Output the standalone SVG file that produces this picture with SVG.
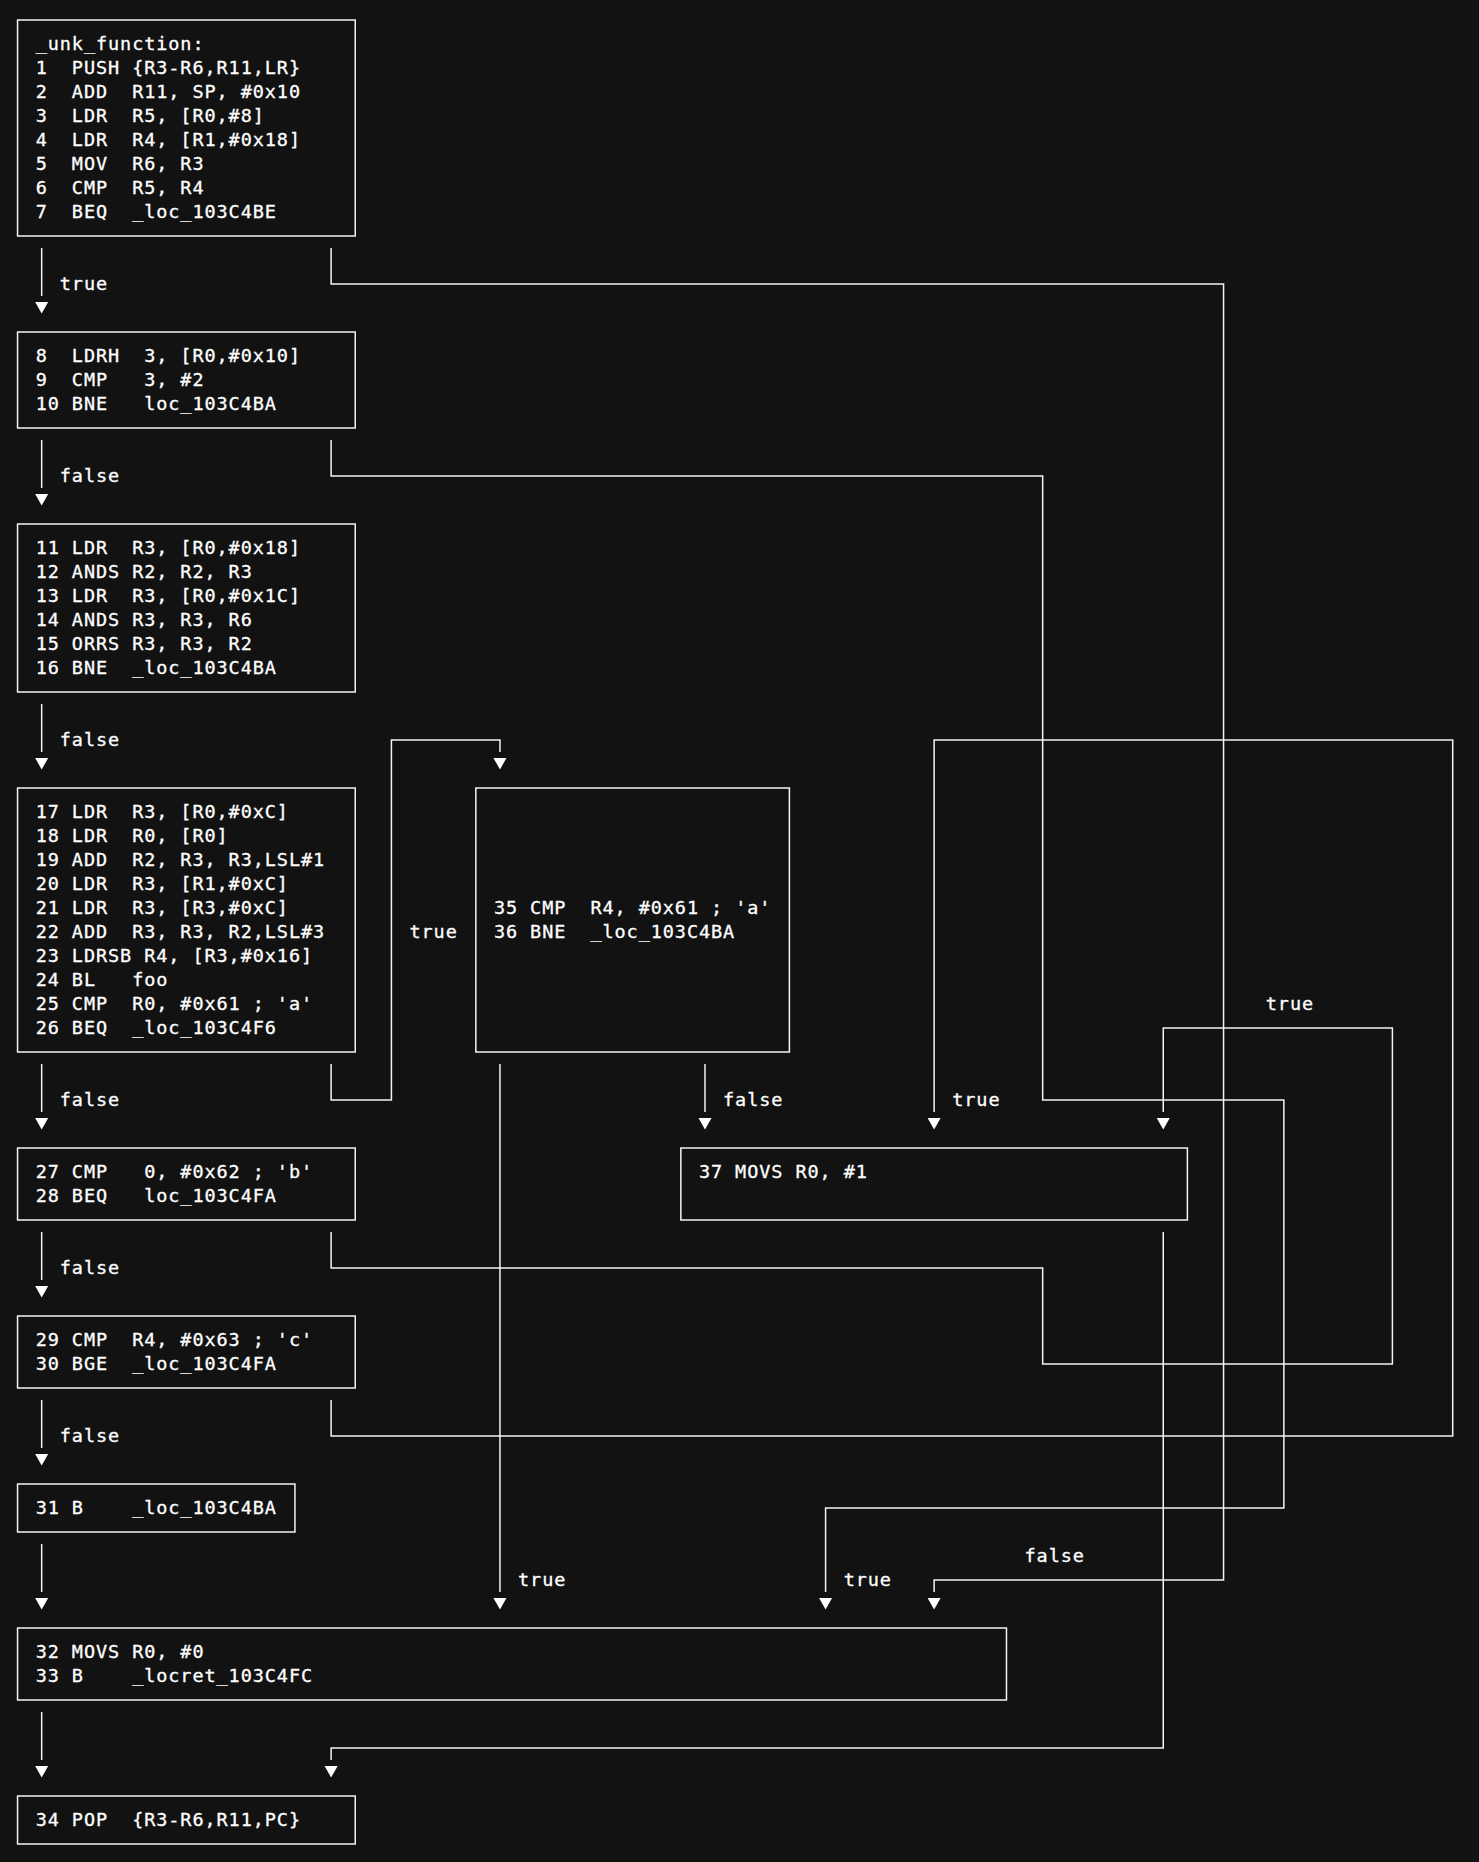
<svg xmlns="http://www.w3.org/2000/svg" width="1479" height="1862" viewBox="0 0 1479 1862">
<style>
.bg{fill:#121212}
.box{fill:none;stroke:#f4f4f4;stroke-width:1.5}
.edge{fill:none;stroke:#f4f4f4;stroke-width:1.5}
text{font-family:"DejaVu Sans Mono","Liberation Mono",monospace;font-size:18.5px;letter-spacing:0.923px;fill:#ffffff;stroke:#ffffff;stroke-width:0.3px;white-space:pre}
</style>
<defs>
<marker id="arr" markerUnits="userSpaceOnUse" markerWidth="20" markerHeight="14" viewBox="0 -7 20 14" refX="0" refY="0" orient="auto">
<path d="M6,-6.5 L6,6.5 L17.5,0 Z" fill="#ffffff"/>
</marker>
</defs>
<rect class="bg" x="0" y="0" width="1479" height="1862"/>

<g id="connectors">
<path class="edge" marker-end="url(#arr)" d="M41.68,248 V296"/>
<path class="edge" marker-end="url(#arr)" d="M41.68,440 V488"/>
<path class="edge" marker-end="url(#arr)" d="M41.68,704 V752"/>
<path class="edge" marker-end="url(#arr)" d="M41.68,1064 V1112"/>
<path class="edge" marker-end="url(#arr)" d="M41.68,1232 V1280"/>
<path class="edge" marker-end="url(#arr)" d="M41.68,1400 V1448"/>
<path class="edge" marker-end="url(#arr)" d="M41.68,1544 V1592"/>
<path class="edge" marker-end="url(#arr)" d="M41.68,1712 V1760"/>
<path class="edge" marker-end="url(#arr)" d="M331.12,248 V284 H1223.56 V1580 H934.12 V1592"/>
<path class="edge" marker-end="url(#arr)" d="M331.12,440 V476 H1042.66 V1100 H1283.86 V1508 H825.58 V1592"/>
<path class="edge" marker-end="url(#arr)" d="M331.12,1064 V1100 H391.42 V740 H499.96 V752"/>
<path class="edge" marker-end="url(#arr)" d="M499.96,1064 V1592"/>
<path class="edge" marker-end="url(#arr)" d="M705,1064 V1112"/>
<path class="edge" marker-end="url(#arr)" d="M331.12,1232 V1268 H1042.66 V1364 H1392.4 V1028 H1163.26 V1112"/>
<path class="edge" marker-end="url(#arr)" d="M331.12,1400 V1436 H1452.7 V740 H934.12 V1112"/>
<path class="edge" marker-end="url(#arr)" d="M1163.26,1232 V1748 H331.12 V1760"/>
<text x="59.77" y="289.5">true</text>
<text x="59.77" y="481.5">false</text>
<text x="59.77" y="745.5">false</text>
<text x="59.77" y="1105.5">false</text>
<text x="59.77" y="1273.5">false</text>
<text x="59.77" y="1441.5">false</text>
<text x="1024.57" y="1561.5">false</text>
<text x="843.67" y="1585.5">true</text>
<text x="409.5" y="937.5">true</text>
<text x="518.05" y="1585.5">true</text>
<text x="723.07" y="1105.5">false</text>
<text x="1265.77" y="1009.5">true</text>
<text x="952.21" y="1105.5">true</text>
</g>

<g id="node-entry">
<rect class="box" x="17.56" y="20" width="337.68" height="216"/>
<text x="35.65" y="49.5">_unk_function:</text>
<text x="35.65" y="73.5">1  PUSH {R3-R6,R11,LR}</text>
<text x="35.65" y="97.5">2  ADD  R11, SP, #0x10</text>
<text x="35.65" y="121.5">3  LDR  R5, [R0,#8]</text>
<text x="35.65" y="145.5">4  LDR  R4, [R1,#0x18]</text>
<text x="35.65" y="169.5">5  MOV  R6, R3</text>
<text x="35.65" y="193.5">6  CMP  R5, R4</text>
<text x="35.65" y="217.5">7  BEQ  _loc_103C4BE</text>
</g>

<g id="node-8">
<rect class="box" x="17.56" y="332" width="337.68" height="96"/>
<text x="35.65" y="361.5">8  LDRH  3, [R0,#0x10]</text>
<text x="35.65" y="385.5">9  CMP   3, #2</text>
<text x="35.65" y="409.5">10 BNE   loc_103C4BA</text>
</g>

<g id="node-11">
<rect class="box" x="17.56" y="524" width="337.68" height="168"/>
<text x="35.65" y="553.5">11 LDR  R3, [R0,#0x18]</text>
<text x="35.65" y="577.5">12 ANDS R2, R2, R3</text>
<text x="35.65" y="601.5">13 LDR  R3, [R0,#0x1C]</text>
<text x="35.65" y="625.5">14 ANDS R3, R3, R6</text>
<text x="35.65" y="649.5">15 ORRS R3, R3, R2</text>
<text x="35.65" y="673.5">16 BNE  _loc_103C4BA</text>
</g>

<g id="node-17">
<rect class="box" x="17.56" y="788" width="337.68" height="264"/>
<text x="35.65" y="817.5">17 LDR  R3, [R0,#0xC]</text>
<text x="35.65" y="841.5">18 LDR  R0, [R0]</text>
<text x="35.65" y="865.5">19 ADD  R2, R3, R3,LSL#1</text>
<text x="35.65" y="889.5">20 LDR  R3, [R1,#0xC]</text>
<text x="35.65" y="913.5">21 LDR  R3, [R3,#0xC]</text>
<text x="35.65" y="937.5">22 ADD  R3, R3, R2,LSL#3</text>
<text x="35.65" y="961.5">23 LDRSB R4, [R3,#0x16]</text>
<text x="35.65" y="985.5">24 BL   foo</text>
<text x="35.65" y="1009.5">25 CMP  R0, #0x61 ; 'a'</text>
<text x="35.65" y="1033.5">26 BEQ  _loc_103C4F6</text>
</g>

<g id="node-35">
<rect class="box" x="475.84" y="788" width="313.56" height="264"/>
<text x="493.93" y="913.5">35 CMP  R4, #0x61 ; 'a'</text>
<text x="493.93" y="937.5">36 BNE  _loc_103C4BA</text>
</g>

<g id="node-27">
<rect class="box" x="17.56" y="1148" width="337.68" height="72"/>
<text x="35.65" y="1177.5">27 CMP   0, #0x62 ; 'b'</text>
<text x="35.65" y="1201.5">28 BEQ   loc_103C4FA</text>
</g>

<g id="node-37">
<rect class="box" x="680.86" y="1148" width="506.52" height="72"/>
<text x="698.95" y="1177.5">37 MOVS R0, #1</text>
</g>

<g id="node-29">
<rect class="box" x="17.56" y="1316" width="337.68" height="72"/>
<text x="35.65" y="1345.5">29 CMP  R4, #0x63 ; 'c'</text>
<text x="35.65" y="1369.5">30 BGE  _loc_103C4FA</text>
</g>

<g id="node-31">
<rect class="box" x="17.56" y="1484" width="277.38" height="48"/>
<text x="35.65" y="1513.5">31 B    _loc_103C4BA</text>
</g>

<g id="node-32">
<rect class="box" x="17.56" y="1628" width="988.92" height="72"/>
<text x="35.65" y="1657.5">32 MOVS R0, #0</text>
<text x="35.65" y="1681.5">33 B    _locret_103C4FC</text>
</g>

<g id="node-34">
<rect class="box" x="17.56" y="1796" width="337.68" height="48"/>
<text x="35.65" y="1825.5">34 POP  {R3-R6,R11,PC}</text>
</g>
</svg>
